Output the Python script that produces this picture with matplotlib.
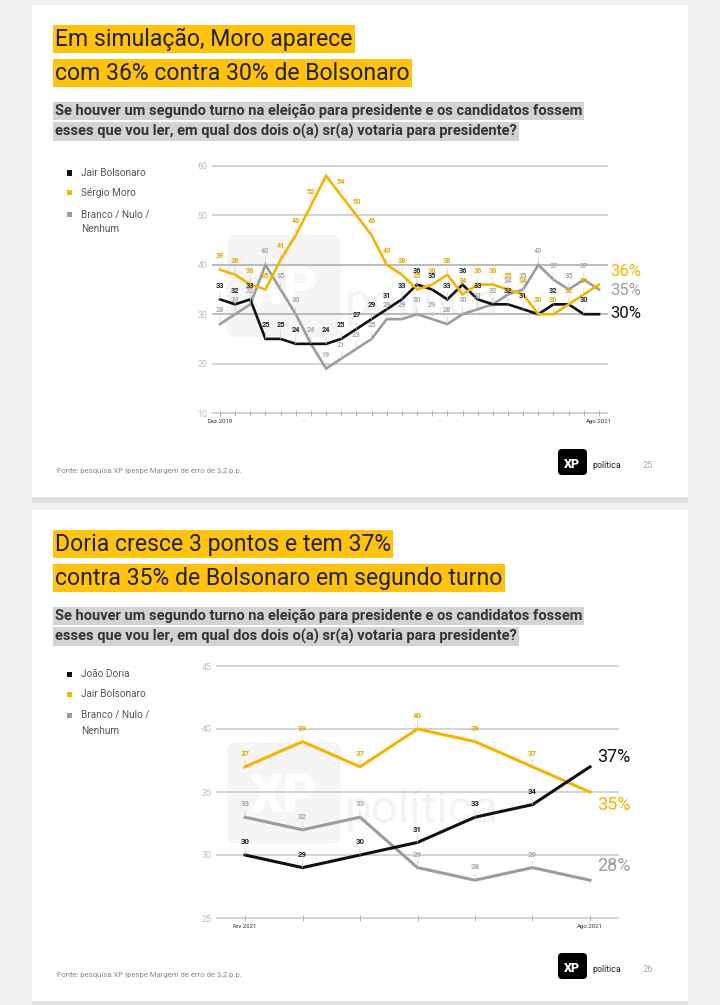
import numpy as np
import matplotlib.pyplot as plt
from matplotlib.patches import Rectangle, FancyBboxPatch

plt.rcParams['font.family'] = ['Roboto', 'DejaVu Sans']

W, H = 720, 1005

# ---- slide 25: Moro x Bolsonaro (Dez.2019 -> Ago.2021)
dates_1 = ['Dez.2019'] + [''] * 24 + ['Ago.2021']
bolsonaro_1 = [33, 32, 33, 25, 25, 24, 24, 24, 25, 27, 29, 31, 33, 36, 35, 33, 36, 33, 32, 32, 31, 30, 32, 32, 30, 30]
moro_1 = [39, 38, 36, 35, 41, 46, 52, 58, 54, 50, 46, 40, 38, 35, 36, 38, 34, 36, 36, 35, 34, 30, 30, 32, 34, 36]
branco_1 = [28, 30, 32, 40, 35, 30, 24, 19, 21, 23, 25, 29, 29, 30, 29, 28, 30, 31, 32, 34, 35, 40, 37, 35, 37, 35]
# points without a value label in the original
hide_bolsonaro_1 = [6, 18, 21, 23, 25]
hide_moro_1 = [7, 25]
hide_branco_1 = [25]
yticks_1 = [10, 20, 30, 40, 50, 60]

# ---- slide 26: Doria x Bolsonaro (Fev.2021 -> Ago.2021)
dates_2 = ['Fev.2021', '', '', '', '', '', 'Ago.2021']
doria_2 = [30, 29, 30, 31, 33, 34, 37]
bolsonaro_2 = [37, 39, 37, 40, 39, 37, 35]
branco_2 = [33, 32, 33, 29, 28, 29, 28]
yticks_2 = [25, 30, 35, 40, 45]

BLACK = '#111111'
YELLOW = '#f5b400'
GRAY = '#9c9c9c'

fig = plt.figure(figsize=(W / 100, H / 100), dpi=100)
fig.patch.set_facecolor('#eff0f2')


def px_axes(l, t, r, b):
    return fig.add_axes([l / W, 1 - b / H, (r - l) / W, (b - t) / H])


def ftext(x, y, s, **kw):
    return fig.text(x / W, 1 - y / H, s, **kw)


def prect(x0, y0, x1, y1, round_px=0, **kw):
    # rectangle given in pixel coords (top-left origin), drawn in inches so rounding stays round
    if round_px:
        p = FancyBboxPatch((x0 / 100, (H - y1) / 100), (x1 - x0) / 100, (y1 - y0) / 100,
                           boxstyle='round,pad=0,rounding_size=%f' % (round_px / 100),
                           transform=fig.dpi_scale_trans, **kw)
    else:
        p = Rectangle((x0 / 100, (H - y1) / 100), (x1 - x0) / 100, (y1 - y0) / 100,
                      transform=fig.dpi_scale_trans, **kw)
    fig.add_artist(p)
    return p


def slide(top, bottom, title, subtitle, legend, legend_y, page):
    prect(32, bottom, 688, bottom + 6, fc='#dedfe1', ec='none', zorder=-20)
    prect(32, top, 688, bottom, fc='white', ec='none', zorder=-19)
    # title with yellow highlight
    for k, line in enumerate(title):
        ftext(55, top + 34 + 34 * k, line, fontsize=16.6, color='#222222', va='center', ha='left',
              bbox=dict(boxstyle='square,pad=0.1', fc='#ffc20e', ec='none'))
    for k, line in enumerate(subtitle):
        ftext(55, top + 106 + 20.5 * k, line, fontsize=10.5, fontweight='bold', color='#333333',
              va='center', ha='left', bbox=dict(boxstyle='square,pad=0.12', fc='#d3d3d3', ec='none'))
    # legend
    ys = [legend_y, legend_y + 20, legend_y + 41]
    for (name, col), y in zip(legend, ys):
        prect(67, y - 2.5, 72, y + 2.5, fc=col, ec='none', zorder=2)
        for j, part in enumerate(name.split('\n')):
            ftext(81, y + 15.5 * j, part, fontsize=7.2, color='#555555', va='center', ha='left')
    # footer
    ftext(57, bottom - 26, 'Fonte: pesquisa XP Ipespe Margem de erro de 3,2 p.p.', fontsize=5.6,
          color='#8a8a8a', va='center')
    prect(558, bottom - 48, 587, bottom - 22, round_px=4, fc='black', ec='none', zorder=2)
    ftext(572.5, bottom - 33, 'XP', fontsize=9, fontweight='heavy', color='white', ha='center', va='center')
    ftext(592, bottom - 32, 'política', fontsize=6.4, color='#222222', va='center')
    ftext(643, bottom - 32, str(page), fontsize=6.6, color='#aaaaaa', va='center')


def watermark(x0, y0):
    prect(x0, y0, x0 + 114, y0 + 102, round_px=10, fc='#f5f5f5', ec='none', zorder=-10)
    ftext(x0 + 57, y0 + 55, 'XP', fontsize=38, fontweight='heavy', color='white', ha='center',
          va='center', zorder=-9)
    ftext(x0 + 118, y0 + 68, 'política', fontsize=34, color='#f3f3f3', ha='left', va='center', zorder=-9)


def draw_chart(ax, dates, series, ylim, yticks, xlim, lw, fs_lab, end_pos, fs_end, dark=()):
    x = np.arange(len(dates))
    for vals, color, lab_color, hidden in series:
        ax.plot(x, vals, color=color, lw=lw, zorder=3, solid_joinstyle='miter')
        for i, v in enumerate(vals):
            if i in hidden:
                continue
            ax.annotate(str(v), xy=(i, v), xytext=(0, 7), textcoords='offset points',
                        ha='center', va='bottom', fontsize=fs_lab, fontweight='bold', color=lab_color,
                        arrowprops=dict(arrowstyle='-', color='#c9c9c9', lw=0.5, shrinkA=0, shrinkB=0),
                        zorder=4)
    for (vals, color, lab_color, hidden), (ex, ey) in zip(series, end_pos):
        ax.text(ex, ey, '%d%%' % vals[-1], fontsize=fs_end, color=color, ha='left', va='center',
                clip_on=False)
    for v in yticks:
        ax.axhline(v, color='#b5b5b5' if v in dark else '#d0d0d0', lw=1.3, clip_on=False, zorder=1)
    ax.set_xlim(xlim)
    ax.set_ylim(ylim)
    ax.set_yticks(yticks)
    ax.set_xticks(x)
    ax.set_xticklabels(dates, fontsize=4.3, color='#333333')
    ax.tick_params(axis='x', direction='inout', length=5, width=0.6, color='#aaaaaa', pad=2)
    ax.tick_params(axis='y', length=0, labelsize=6.3, labelcolor='#bbbbbb', pad=4)
    for s in ax.spines.values():
        s.set_visible(False)
    ax.patch.set_visible(False)


# ---- slide 25
slide(5, 497,
      ['Em simulação, Moro aparece', 'com 36% contra 30% de Bolsonaro'],
      ['Se houver um segundo turno na eleição para presidente e os candidatos fossem',
       'esses que vou ler, em qual dos dois o(a) sr(a) votaria para presidente?'],
      [('Jair Bolsonaro', BLACK), ('Sérgio Moro', YELLOW), ('Branco / Nulo /\nNenhum', GRAY)], 173, 25)
watermark(227, 235)
ax1 = px_axes(213, 166, 607, 413)
draw_chart(ax1, dates_1,
           [(branco_1, GRAY, '#a8a8a8', hide_branco_1),
            (bolsonaro_1, BLACK, '#222222', hide_bolsonaro_1),
            (moro_1, YELLOW, '#e0a800', hide_moro_1)],
           (10, 60), yticks_1, (-0.46, 25.53), 1.9, 5.2,
           [(25.73, 34.7), (25.73, 30.2), (25.73, 38.7)], 12, dark=(30, 40))

# ---- slide 26
slide(510, 1001,
      ['Doria cresce 3 pontos e tem 37%', 'contra 35% de Bolsonaro em segundo turno'],
      ['Se houver um segundo turno na eleição para presidente e os candidatos fossem',
       'esses que vou ler, em qual dos dois o(a) sr(a) votaria para presidente?'],
      [('João Doria', BLACK), ('Jair Bolsonaro', YELLOW), ('Branco / Nulo /\nNenhum', GRAY)], 674, 26)
watermark(227, 742)
ax2 = px_axes(217, 666, 618, 918)
draw_chart(ax2, dates_2,
           [(branco_2, GRAY, '#a8a8a8', [6]),
            (bolsonaro_2, YELLOW, '#e0a800', [6]),
            (doria_2, BLACK, '#222222', [6])],
           (25, 45), yticks_2, (-0.487, 6.487), 2.2, 5.6,
           [(6.12, 29.1), (6.12, 34.0), (6.12, 37.8)], 13)

fig.savefig('out.png', dpi=100)
